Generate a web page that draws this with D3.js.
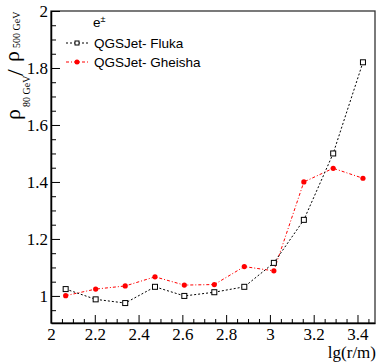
<!DOCTYPE html>
<html>
<head>
<meta charset="utf-8">
<style>
    body { margin: 0; background: #fff; }
    svg { display: block; }
</style>
</head>
<body>
<script src="https://d3js.org/d3.v7.min.js"></script>
<script>
// values
const lgR = [2.067, 2.204, 2.339, 2.475, 2.609, 2.746, 2.883, 3.018, 3.155, 3.289, 3.425];
const fluka = [1.024, 0.988, 0.975, 1.032, 1.000, 1.013, 1.032, 1.116, 1.267, 1.500, 1.820];
const gheisha = [1.001, 1.024, 1.035, 1.067, 1.038, 1.040, 1.103, 1.088, 1.400, 1.448, 1.413];
const xTicks = [2, 2.2, 2.4, 2.6, 2.8, 3, 3.2, 3.4];
const yTicks = [1, 1.2, 1.4, 1.6, 1.8, 2];
const legendHeader = "e";
const seriesNames = ["QGSJet- Fluka", "QGSJet- Gheisha"];

const width = 378, height = 364;
const padL = 51, padR = 375, padT = 11, padB = 323;
const serif = "Liberation Serif";
const sans = "Liberation Sans";

const svg = d3.select("body").append("svg")
    .attr("width", width)
    .attr("height", height);

const x = d3.scaleLinear().domain([2, 3.48]).range([padL, padR]);
const y = d3.scaleLinear().domain([0.905, 2]).range([padB, padT]);

// frame (top and right sides)
svg.append("rect")
    .attr("x", padL).attr("y", padT)
    .attr("width", padR - padL).attr("height", padB - padT)
    .attr("fill", "none").attr("stroke", "#333").attr("stroke-width", 1.3);

// minor ticks
const xMinor = d3.range(2, 3.48, 0.05).filter(v => Math.abs(v * 5 - Math.round(v * 5)) > 1e-6);
const yMinor = d3.range(0.95, 2.0, 0.05).filter(v => Math.abs(v * 5 - Math.round(v * 5)) > 1e-6);

svg.append("g")
    .attr("transform", `translate(0,${padB})`)
    .call(d3.axisBottom(x).tickValues(xMinor).tickSize(-4).tickFormat(""))
    .call(g => g.select(".domain").remove())
    .selectAll("line").attr("stroke", "#000");

svg.append("g")
    .attr("transform", `translate(${padL},0)`)
    .call(d3.axisLeft(y).tickValues(yMinor).tickSize(-5).tickFormat(""))
    .call(g => g.select(".domain").remove())
    .selectAll("line").attr("stroke", "#000");

// major ticks + labels
const xAxis = svg.append("g")
    .attr("transform", `translate(0,${padB})`)
    .call(d3.axisBottom(x).tickValues(xTicks).tickSizeInner(-8).tickSizeOuter(0).tickPadding(5).tickFormat(d3.format("~g")));
xAxis.select(".domain").attr("stroke", "#000").attr("stroke-width", 1.5);
xAxis.selectAll("line").attr("stroke", "#000");

const yAxis = svg.append("g")
    .attr("transform", `translate(${padL},0)`)
    .call(d3.axisLeft(y).tickValues(yTicks).tickSizeInner(-9).tickSizeOuter(0).tickPadding(3).tickFormat(d3.format("~g")));
yAxis.select(".domain").attr("stroke", "#000").attr("stroke-width", 1.5);
yAxis.selectAll("line").attr("stroke", "#000");

[xAxis, yAxis].forEach(a => {
    a.attr("font-family", serif).attr("font-size", 17);
    a.selectAll("text").attr("font-family", serif).attr("font-size", 17).attr("fill", "#000");
});

// x title
svg.append("text")
    .attr("x", 376).attr("y", 358)
    .attr("text-anchor", "end")
    .attr("font-family", serif)
    .attr("font-size", 17)
    .text("lg(r/m)");

// y title: rho_{80 GeV} / rho_{500 GeV}
const yt = svg.append("g")
    .attr("transform", "translate(20,120) rotate(-90)")
    .attr("font-family", serif);
yt.append("text").attr("x", 0).attr("y", 0).attr("font-size", 22).text("ρ");
yt.append("text").attr("x", 13).attr("y", 10).attr("font-size", 10).text("80 GeV");
yt.append("text").attr("x", 44).attr("y", 3).attr("font-size", 24).text("/");
yt.append("text").attr("x", 58).attr("y", -1).attr("font-size", 22).text("ρ");
yt.append("text").attr("x", 72).attr("y", 0).attr("font-size", 10).text("500 GeV");

// series
const line = d3.line().x(d => x(d[0])).y(d => y(d[1]));
const flukaPts = lgR.map((v, i) => [v, fluka[i]]);
const gheishaPts = lgR.map((v, i) => [v, gheisha[i]]);

svg.append("path")
    .attr("d", line(gheishaPts))
    .attr("fill", "none").attr("stroke", "#ff0000").attr("stroke-width", 1)
    .attr("stroke-dasharray", "3,2,1,2");

svg.append("path")
    .attr("d", line(flukaPts))
    .attr("fill", "none").attr("stroke", "#000").attr("stroke-width", 1)
    .attr("stroke-dasharray", "2,2");

svg.append("g").selectAll("circle")
    .data(gheishaPts).join("circle")
    .attr("cx", d => x(d[0])).attr("cy", d => y(d[1]))
    .attr("r", 2.6).attr("fill", "#ff0000");

svg.append("g").selectAll("rect")
    .data(flukaPts).join("rect")
    .attr("x", d => x(d[0]) - 2.5).attr("y", d => y(d[1]) - 2.5)
    .attr("width", 5).attr("height", 5)
    .attr("fill", "#fff").attr("stroke", "#000").attr("stroke-width", 1);

// legend
const lg = svg.append("g").attr("font-family", sans).attr("font-size", 13.5);
const hdr = lg.append("text").attr("x", 93).attr("y", 27).text(legendHeader);
hdr.append("tspan").attr("font-size", 9).attr("dy", -5).text("±");

const rows = [
    { name: seriesNames[0], color: "#000", dash: "2,2", marker: "square", y: 43 },
    { name: seriesNames[1], color: "#ff0000", dash: "3,2,1,2", marker: "circle", y: 62 }
];
rows.forEach(r => {
    lg.append("line")
        .attr("x1", 66).attr("x2", 88).attr("y1", r.y).attr("y2", r.y)
        .attr("stroke", r.color).attr("stroke-width", 1).attr("stroke-dasharray", r.dash);
    if (r.marker === "square") {
        lg.append("rect").attr("x", 75).attr("y", r.y - 2).attr("width", 4).attr("height", 4)
            .attr("fill", "#fff").attr("stroke", "#000");
    } else {
        lg.append("circle").attr("cx", 77).attr("cy", r.y).attr("r", 2.5).attr("fill", "#ff0000");
    }
    lg.append("text").attr("x", 94).attr("y", r.y + 5).text(r.name);
});
</script>
</body>
</html>
